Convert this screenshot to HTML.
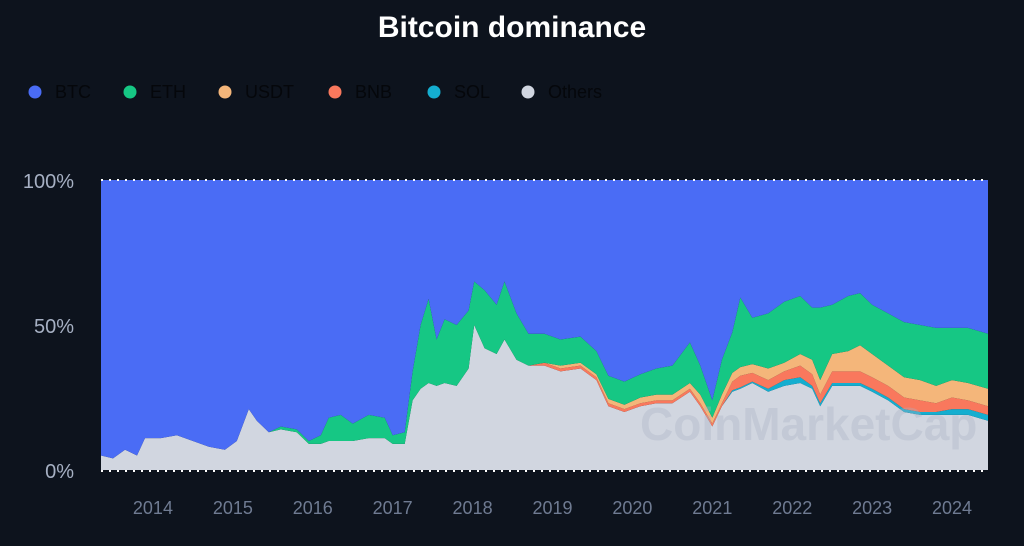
<!DOCTYPE html>
<html><head><meta charset="utf-8"><style>
html,body{margin:0;padding:0;background:#0d131d;width:1024px;height:546px;overflow:hidden;font-family:"Liberation Sans",sans-serif}
</style></head><body>
<svg id="chart" width="1024" height="546">
<rect width="1024" height="546" fill="#0d131d"/>
<text x="512" y="37" text-anchor="middle" fill="#fff" font-size="30" font-weight="bold">Bitcoin dominance</text>
<g id="legend"></g>
<g id="layers"></g>
<text x="640" y="440" fill="#aab2c2" fill-opacity="0.35" font-size="46" font-weight="bold">CoinMarketCap</text>
<g id="axes"></g>
</svg>
<script>
const dates=[2013.35,2013.5,2013.65,2013.8,2013.9,2014.1,2014.3,2014.5,2014.7,2014.9,2015.05,2015.2,2015.3,2015.45,2015.6,2015.8,2015.95,2016.1,2016.2,2016.35,2016.5,2016.7,2016.9,2017.0,2017.15,2017.25,2017.35,2017.45,2017.55,2017.65,2017.8,2017.95,2018.02,2018.15,2018.3,2018.4,2018.55,2018.7,2018.9,2019.1,2019.35,2019.55,2019.7,2019.9,2020.1,2020.3,2020.5,2020.72,2020.85,2021.0,2021.12,2021.25,2021.35,2021.5,2021.7,2021.9,2022.1,2022.25,2022.35,2022.5,2022.7,2022.85,2023.0,2023.2,2023.4,2023.6,2023.8,2024.0,2024.2,2024.45];
const others=[5,4,7,5,11,11,12,10,8,7,10,21,17,13,14,13,9,9,10,10,10,11,11,9,9,24,28,30,29,30,29,35,50,42,40,45,38,36,36,34,35,31,22,20,22,23,23,27,22,15,22,27,28,30,27,29,30,28,22,29,29,29,27,24,20,19,19,19,19,17];
const sol=[0,0,0,0,0,0,0,0,0,0,0,0,0,0,0,0,0,0,0,0,0,0,0,0,0,0,0,0,0,0,0,0,0,0,0,0,0,0,0,0,0,0,0,0,0,0,0,0,0,0,0,0.5,0.5,0.5,1,2,2,1,1,1,1,1,1,1,1,1,1,2,2,2];
const bnb=[0,0,0,0,0,0,0,0,0,0,0,0,0,0,0,0,0,0,0,0,0,0,0,0,0,0,0,0,0,0,0,0,0,0,0,0,0,0,1,1,1,1,1,1,1,1,1,1,1,1,1,3,4,3,3,3,4,4,3,4,4,4,4,4,4,4,3,4,3,3];
const usdt=[0,0,0,0,0,0,0,0,0,0,0,0,0,0,0,0,0,0,0,0,0,0,0,0,0,0,0,0,0,0,0,0,0,0,0,0,0,0,0,1,1,1,1.5,1.5,2,2,2,2,3,2,3,3,3,3,4,3,4,5,5,6,7,9,8,7,7,7,6,6,6,6];
const eth=[0,0,0,0,0,0,0,0,0,0,0,0,0,0,1,1,1,3,8,9,6,8,7,3,4,10,22,29,16,22,21,20,15,20,17,20,16,11,10,9,9,8,8,8,8,9,10,14,10,6,12,14,24,16,19,21,20,18,25,17,19,18,17,18,19,19,20,18,19,19];
const seriesNames=["Others","SOL","BNB","USDT","ETH","BTC"];
const seriesColors=["#d1d6e0","#14aed0","#f9785d","#f4b67a","#16c784","#4a6cf5"];
const yTicks=[0,50,100];
const yearTicks=[2014,2015,2016,2017,2018,2019,2020,2021,2022,2023,2024];

const X0=101,X1=988,Y0=470,Y1=180,D0=2013.35,D1=2024.45;
const xs=d=>X0+(d-D0)/(D1-D0)*(X1-X0);
const ys=v=>Y0-v/100*(Y0-Y1);
const NS="http://www.w3.org/2000/svg";
const layers=document.getElementById('layers');
const btc=dates.map((d,i)=>100-others[i]-sol[i]-bnb[i]-usdt[i]-eth[i]);
const series=[others,sol,bnb,usdt,eth,btc];
let cum=dates.map(()=>0);
series.forEach((s,k)=>{
  const lower=cum.slice();
  cum=cum.map((c,i)=>c+s[i]);
  let pts=dates.map((d,i)=>xs(d).toFixed(1)+','+ys(cum[i]).toFixed(1));
  for(let i=dates.length-1;i>=0;i--)pts.push(xs(dates[i]).toFixed(1)+','+ys(lower[i]).toFixed(1));
  const p=document.createElementNS(NS,'polygon');
  p.setAttribute('points',pts.join(' '));
  p.setAttribute('fill',seriesColors[k]);
  
  
  layers.appendChild(p);
});
const axes=document.getElementById('axes');
function line(x1,y1,x2,y2,name){
  const l=document.createElementNS(NS,'line');
  l.setAttribute('x1',x1);l.setAttribute('y1',y1);l.setAttribute('x2',x2);l.setAttribute('y2',y2);
  l.setAttribute('stroke','#fff');l.setAttribute('stroke-width','2');l.setAttribute('stroke-dasharray','2 6');
  
  
  axes.appendChild(l);
}
line(X0,Y1,X1,Y1,'top-gridline');
line(X0,Y0+1,X1,Y0+1,'x-axis-line');
yTicks.forEach(v=>{
  const t=document.createElementNS(NS,'text');
  t.setAttribute('x',74);t.setAttribute('y',ys(v)+8);t.setAttribute('text-anchor','end');
  t.setAttribute('fill','#a6b0c3');t.setAttribute('font-size','20');
  t.textContent=v+'%';
  
  
  axes.appendChild(t);
});
yearTicks.forEach(y=>{
  const t=document.createElementNS(NS,'text');
  t.setAttribute('x',xs(y));t.setAttribute('y',514);t.setAttribute('text-anchor','middle');
  t.setAttribute('fill','#6f7b92');t.setAttribute('font-size','18');
  t.textContent=y;
  
  
  axes.appendChild(t);
});
const legend=document.getElementById('legend');
const legendOrder=[5,4,3,2,1,0];
const legendX=[35,130,225,335,434,528];
legendOrder.forEach((k,j)=>{
  const g=document.createElementNS(NS,'g');
  
  
  const c=document.createElementNS(NS,'circle');
  c.setAttribute('cx',legendX[j]);c.setAttribute('cy',92);c.setAttribute('r',6.5);c.setAttribute('fill',seriesColors[k]);
  const t=document.createElementNS(NS,'text');
  t.setAttribute('x',legendX[j]+20);t.setAttribute('y',98);t.setAttribute('fill','#05070b');t.setAttribute('font-size','18');
  t.textContent=seriesNames[k];
  g.appendChild(c);g.appendChild(t);legend.appendChild(g);
});
</script>
</body></html>
